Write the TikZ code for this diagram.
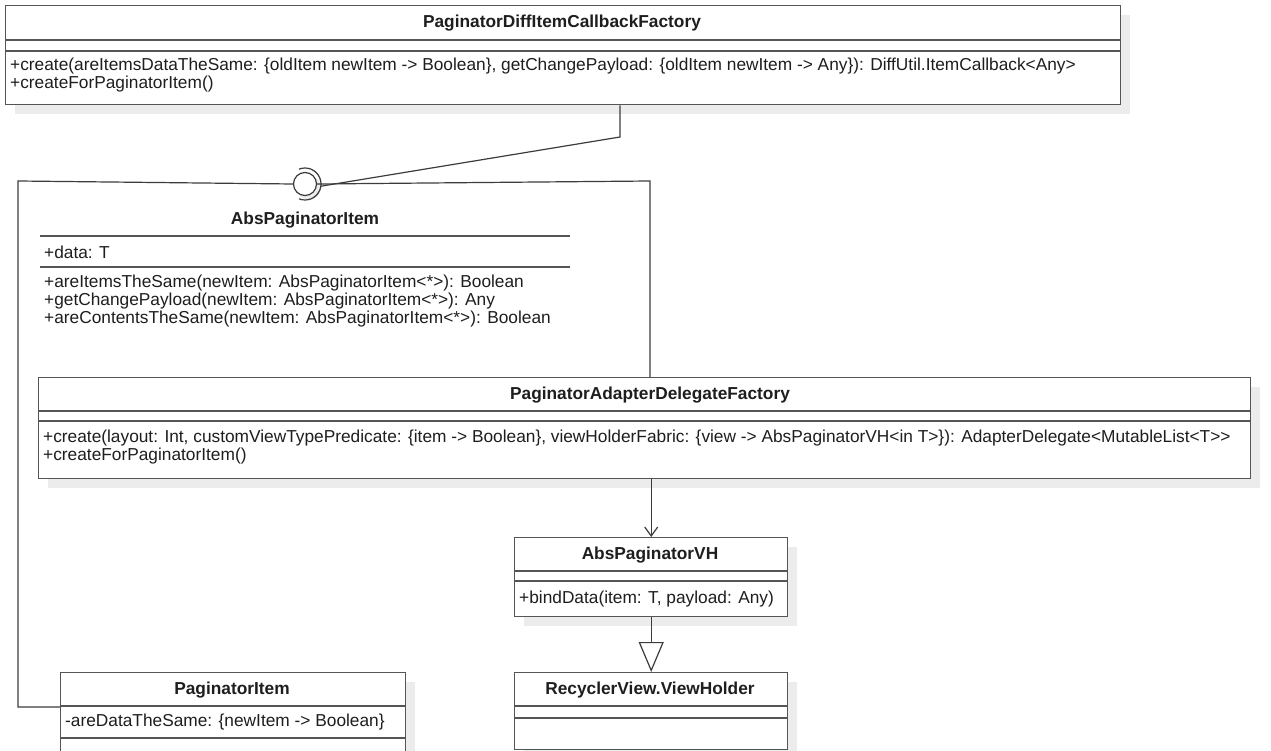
\documentclass[tikz,border=0pt]{standalone}
\usepackage{fontspec}
\setmainfont{Liberation Sans}
\usetikzlibrary{arrows.meta,shadows,calc}
\definecolor{linecol}{HTML}{3C3C3C}
\definecolor{boxcol}{HTML}{555555}
\definecolor{txtcol}{HTML}{1E1E1E}
\definecolor{shadecol}{HTML}{ECECEC}
\tikzset{
  umlbox/.style={draw=boxcol, line width=1.4pt, fill=white, inner sep=0pt,
    anchor=north west,
    drop shadow={shadow xshift=9pt, shadow yshift=-9pt, fill=shadecol, opacity=1}},
  divider/.style={draw=boxcol, line width=1.4pt},
  conn/.style={draw=linecol, line width=1.2pt},
  clsname/.style={font=\fontsize{17.3}{20}\selectfont\bfseries, text=txtcol, inner sep=0pt},
  member/.style={font=\fontsize{17.3}{20}\selectfont, text=txtcol, inner sep=0pt, anchor=west}
}
\begin{document}
\begin{tikzpicture}[x=1pt, y=-1pt]
\clip (0,0) rectangle (1271,751);
\fill[white] (0,0) rectangle (1271,751);

% ---- PaginatorDiffItemCallbackFactory ----
\node[umlbox, minimum width=1115pt, minimum height=99pt] (T) at (5,5) {};
\draw[divider] ($(T.north west)+(0,35)$) -- ($(T.north east)+(0,35)$);
\draw[divider] ($(T.north west)+(0,46)$) -- ($(T.north east)+(0,46)$);
\node[clsname] (Tname) at (562,23) {PaginatorDiffItemCallbackFactory};
\node[member] (Tm1) at (10,66) {+create(areItemsDataTheSame: \{oldItem newItem -> Boolean\}, getChangePayload: \{oldItem newItem -> Any\}): DiffUtil.ItemCallback<Any>};
\node[member] (Tm2) at (10,84) {+createForPaginatorItem()};

% ---- AbsPaginatorItem interface (lollipop) ----
\fill[shadecol] (309,188) circle[radius=12];
\node[circle, draw=linecol, line width=1.2pt, fill=white, minimum size=23pt, inner sep=0pt] (lol) at (305,184) {};
\draw[conn] (lol.center) ++(112:16) arc[start angle=112, end angle=-112, radius=16];
\node[clsname] (Aname) at (305,220) {AbsPaginatorItem};
\draw[divider] (40,236) -- (570,236);
\node[member] (Aa1) at (44,252) {+data: T};
\draw[divider] (40,267) -- (570,267);
\node[member] (Am1) at (44,283) {+areItemsTheSame(newItem: AbsPaginatorItem<*>): Boolean};
\node[member] (Am2) at (44,301) {+getChangePayload(newItem: AbsPaginatorItem<*>): Any};
\node[member] (Am3) at (44,319) {+areContentsTheSame(newItem: AbsPaginatorItem<*>): Boolean};

% ---- PaginatorAdapterDelegateFactory ----
\node[umlbox, minimum width=1212pt, minimum height=101pt] (P) at (38,377) {};
\draw[divider] ($(P.north west)+(0,34)$) -- ($(P.north east)+(0,34)$);
\draw[divider] ($(P.north west)+(0,44)$) -- ($(P.north east)+(0,44)$);
\node[clsname] (Pname) at (650,395) {PaginatorAdapterDelegateFactory};
\node[member] (Pm1) at (43,438) {+create(layout: Int, customViewTypePredicate: \{item -> Boolean\}, viewHolderFabric: \{view -> AbsPaginatorVH<in T>\}): AdapterDelegate<MutableList<T>{}>};
\node[member] (Pm2) at (43,456) {+createForPaginatorItem()};

% ---- AbsPaginatorVH ----
\node[umlbox, minimum width=273pt, minimum height=79pt] (VH) at (514,537) {};
\draw[divider] ($(VH.north west)+(0,34)$) -- ($(VH.north east)+(0,34)$);
\draw[divider] ($(VH.north west)+(0,44)$) -- ($(VH.north east)+(0,44)$);
\node[clsname] (VHname) at (650,555) {AbsPaginatorVH};
\node[member] (VHm1) at (519,599) {+bindData(item: T, payload: Any)};

% ---- RecyclerView.ViewHolder ----
\node[umlbox, minimum width=273pt, minimum height=77pt] (RV) at (514,672) {};
\draw[divider] ($(RV.north west)+(0,34)$) -- ($(RV.north east)+(0,34)$);
\draw[divider] ($(RV.north west)+(0,46)$) -- ($(RV.north east)+(0,46)$);
\node[clsname] (RVname) at (650,690) {RecyclerView.ViewHolder};

% ---- PaginatorItem ----
\node[umlbox, minimum width=345pt, minimum height=80pt] (PI) at (60,672) {};
\draw[divider] ($(PI.north west)+(0,34)$) -- ($(PI.north east)+(0,34)$);
\draw[divider] ($(PI.north west)+(0,66)$) -- ($(PI.north east)+(0,66)$);
\node[clsname] (PIname) at (232,690) {PaginatorItem};
\node[member] (PIa1) at (65,722) {-areDataTheSame: \{newItem -> Boolean\}};

% ---- connectors ----
\coordinate (reqbend) at (620,137);
\coordinate (leftTop) at (18,181);
\coordinate (leftBot) at (18,707);
\coordinate (rightTop) at (650,181);
\draw[conn] (reqbend |- T.south) -- (reqbend) -- ($(lol.center)+(8:16)$);
\draw[conn] (lol.west) -- (leftTop) -- (leftBot) -- (leftBot -| PI.west);
\draw[conn] (lol.east) -- (rightTop) -- (rightTop |- P.north);
\draw[conn, -{Straight Barb[length=9pt, width=13pt, line width=1.2pt]}] (VH.north |- P.south) -- (VH.north);
\draw[conn, -{Triangle[open, length=30pt, width=25pt, line width=1.2pt, fill=white]}] (VH.south) -- (RV.north);
\end{tikzpicture}
\end{document}
